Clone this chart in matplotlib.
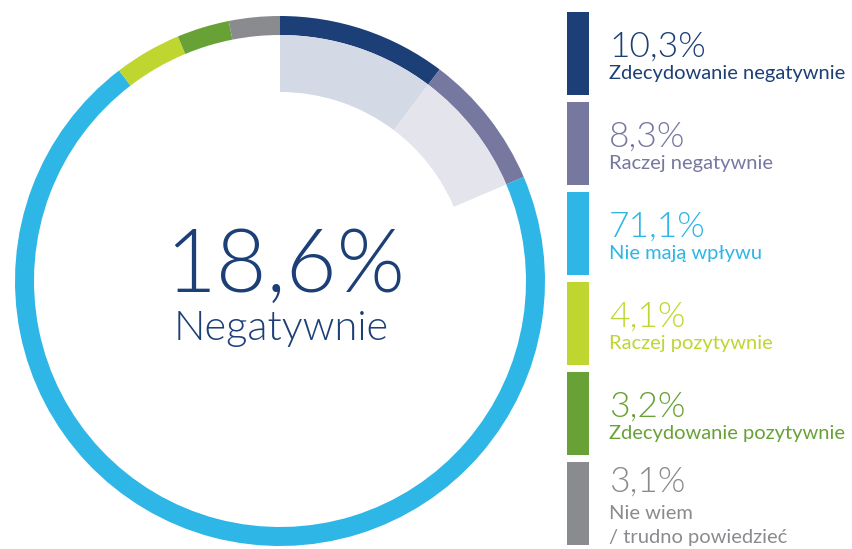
import matplotlib
matplotlib.use("Agg")
import matplotlib.pyplot as plt

# ---- data ----
categories = ["Zdecydowanie negatywnie", "Raczej negatywnie", "Nie mają wpływu",
              "Raczej pozytywnie", "Zdecydowanie pozytywnie", "Nie wiem\n/ trudno powiedzieć"]
values = [10.3, 8.3, 71.1, 4.1, 3.2, 3.1]
value_labels = ["10,3%", "8,3%", "71,1%", "4,1%", "3,2%", "3,1%"]
colors = ["#1C3F77", "#7778A0", "#2DB6E6", "#BFD631", "#68A236", "#8A8B8E"]
inner_colors = ["#D3D9E5", "#E3E4EC", "none", "none", "none", "none"]
center_value = "18,6%"
center_label = "Negatywnie"

W, H = 852, 549
fig = plt.figure(figsize=(W / 100, H / 100), dpi=100)
ax = fig.add_axes([0, 0, 1, 1])

FONT = "Lato"
NUM_W = 300

def Y(y_img):
    return H - y_img

cx, cy = 280, Y(281)

# outer ring
ax.pie(values, colors=colors, radius=265, center=(cx, cy), startangle=90,
       counterclock=False, wedgeprops=dict(width=19, linewidth=0))
# inner shaded band for negative answers
ax.pie(values, colors=inner_colors, radius=246, center=(cx, cy), startangle=90,
       counterclock=False, wedgeprops=dict(width=57, linewidth=0))

# center text
ax.text(285, Y(292), center_value, fontsize=63, color=colors[0], ha="center",
        va="baseline", family=FONT, fontweight=NUM_W)
ax.text(281, Y(340), center_label, fontsize=30, color=colors[0], ha="center",
        va="baseline", family=FONT, fontweight=NUM_W)

# legend bars
bar_x = 578
bar_w = 22
bar_h = 83
tops = [12 + 90 * i for i in range(len(values))]
ax.bar([bar_x] * len(values), [bar_h] * len(values), width=bar_w,
       bottom=[Y(t + bar_h) for t in tops], color=colors, linewidth=0)

NUM_FS = 25.5
LAB_FS = 14.5
for i, (vl, cat, col) in enumerate(zip(value_labels, categories, colors)):
    t = tops[i]
    if "\n" in cat:
        ax.text(609, Y(t + 30), vl, fontsize=NUM_FS, color=col, family=FONT,
                fontweight=NUM_W, va="baseline", ha="left")
        l1, l2 = cat.split("\n")
        ax.text(609, Y(t + 57), l1, fontsize=LAB_FS, color=col, family=FONT,
                va="baseline", ha="left")
        ax.text(609, Y(t + 81), l2, fontsize=LAB_FS, color=col, family=FONT,
                va="baseline", ha="left")
    else:
        ax.text(609, Y(t + 45), vl, fontsize=NUM_FS, color=col, family=FONT,
                fontweight=NUM_W, va="baseline", ha="left")
        ax.text(609, Y(t + 67), cat, fontsize=LAB_FS, color=col, family=FONT,
                va="baseline", ha="left")

ax.set_xlim(0, W)
ax.set_ylim(0, H)
ax.set_aspect("auto")
ax.axis("off")

fig.savefig("out.png", dpi=100, facecolor="white")
